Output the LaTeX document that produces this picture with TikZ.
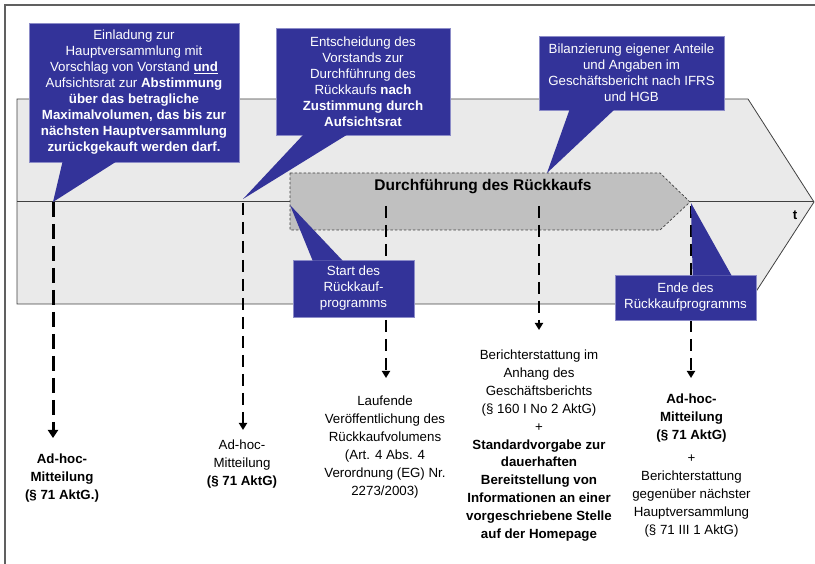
\documentclass[tikz,border=0pt]{standalone}
\usepackage{fontspec}
\setmainfont{Liberation Sans}
\usetikzlibrary{calc,arrows.meta}
\definecolor{callblue}{HTML}{333399}
\definecolor{callrim}{HTML}{8C8CC8}
\definecolor{biggray}{HTML}{EAEAEA}
\definecolor{innergray}{HTML}{C0C0C0}
\definecolor{framegray}{HTML}{606060}
\definecolor{linegray}{HTML}{404040}
\tikzset{
  callbox/.style={draw=callrim, line width=0.7pt, fill=callblue, text=white, align=center,
    inner sep=0pt, font={\fontsize{13.3}{16}\selectfont}},
  callptr/.style={fill=callblue},
  infotext/.style={align=center, inner sep=0pt, anchor=base, text=black,
    font={\fontsize{13.3}{17.9}\selectfont}},
  dasharrow/.style={line width=2pt, dash pattern=on 12pt off 7pt,
    -{Triangle[width=8pt,length=7pt]}},
  thickdasharrow/.style={line width=3pt, dash pattern=on 15pt off 7pt,
    -{Triangle[width=10pt,length=8pt]}},
}
\begin{document}
\begin{tikzpicture}[x=1pt,y=-1pt]
\useasboundingbox (0,0) rectangle (815,564);
% frame
\draw[framegray, line width=1.5pt] (5,564) -- (5,5) -- (815,5);
% big timeline arrow
\draw[linegray, line width=0.8pt, fill=biggray]
  (17,99) -- (748,99) -- (814,202) -- (748,304) -- (17,304) -- cycle;
\coordinate (tstart) at (17,202);
\coordinate (ttip) at (814,202);
\draw[linegray, line width=1pt] (tstart) -- (ttip);
\node[font={\bfseries\fontsize{13.3}{16}\selectfont}] (tlabel) at (795,215) {t};
% inner arrow
\draw[linegray, line width=0.7pt, dash pattern=on 2.5pt off 2pt, fill=innergray]
  (290,173) -- (660,173) -- (690,202) -- (660,230) -- (290,230) -- cycle;
\node[font={\bfseries\fontsize{15.5}{18}\selectfont}] (durch) at (483,187) {Durchführung des Rückkaufs};
% coordinates of events
\coordinate (s1) at (53,202);
\coordinate (s2) at (243,203);
\coordinate (s3) at (386,206);
\coordinate (s4) at (539,206);
\coordinate (s5) at (691,206);
\coordinate (e1) at (53,438);
\coordinate (e2) at (243,430);
\coordinate (e3) at (386,378);
\coordinate (e4) at (539,330);
\coordinate (e5) at (691,378);
% dashed arrows
\draw[thickdasharrow] (s1) -- (e1);
\draw[dasharrow] (s2) -- (e2);
\draw[dasharrow] (s3) -- (e3);
\draw[dasharrow] (s4) -- (e4);
\draw[dasharrow] (s5) -- (e5);
% callout boxes
\node[callbox, minimum width=210pt, minimum height=139pt] (b1) at (134,92.5)
  {Einladung zur\\Hauptversammlung mit\\Vorschlag von Vorstand \underline{\textbf{und}}\\
   Aufsichtsrat zur \textbf{Abstimmung}\\\textbf{über das betragliche}\\
   \textbf{Maximalvolumen, das bis zur}\\\textbf{nächsten Hauptversammlung}\\
   \textbf{zurückgekauft werden darf.}};
\fill[callptr] ($(b1.south west)+(34,-1)$) -- (s1) -- ($(b1.south west)+(88,-1)$) -- cycle;
\node[callbox, minimum width=174pt, minimum height=107pt] (b2) at (363,81.5)
  {Entscheidung des\\Vorstands zur\\Durchführung des\\Rückkaufs \textbf{nach}\\
   \textbf{Zustimmung durch}\\\textbf{Aufsichtsrat}};
\coordinate (p2) at (243,199);
\fill[callptr] ($(b2.south west)+(28,-1)$) -- (p2) -- ($(b2.south west)+(72,-1)$) -- cycle;
\node[callbox, minimum width=185pt, minimum height=74pt] (b3) at (631.5,73)
  {Bilanzierung eigener Anteile\\und Angaben im\\Geschäftsbericht nach IFRS\\und HGB};
\coordinate (p3) at (547,173);
\fill[callptr] ($(b3.south west)+(31,-1)$) -- (p3) -- ($(b3.south west)+(76,-1)$) -- cycle;
\node[callbox, minimum width=121pt, minimum height=57pt] (b4) at (353.5,288.5)
  {Start des\\Rückkauf-\\programms};
\coordinate (p4) at (290,205);
\fill[callptr] ($(b4.north west)+(20,1)$) -- (p4) -- ($(b4.north west)+(50,1)$) -- cycle;
\node[callbox, minimum width=141pt, minimum height=45pt] (b5) at (685.5,297.5)
  {Ende des\\Rückkaufprogramms};
\coordinate (p5) at (691,203);
\fill[callptr] ($(b5.north west)+(78,1)$) -- (p5) -- ($(b5.north west)+(117,1)$) -- cycle;
% bottom texts (anchor base = baseline of last line)
\node[infotext, font={\bfseries\fontsize{13.3}{17.9}\selectfont}] (t1) at (62,499)
  {Ad-hoc-\\Mitteilung\\(§ 71 AktG.)};
\node[infotext] (t2) at (242,485.5)
  {Ad-hoc-\\Mitteilung\\\textbf{(§ 71 AktG)}};
\node[infotext] (t3) at (385,495)
  {Laufende\\Veröffentlichung des\\Rückkaufvolumens\\(Art. 4 Abs. 4\\Verordnung (EG) Nr.\\2273/2003)};
\node[infotext] (t4) at (539,538.5)
  {Berichterstattung im\\Anhang des\\Geschäftsberichts\\(§ 160 I No 2 AktG)\\+\\
   \textbf{Standardvorgabe zur}\\\textbf{dauerhaften}\\\textbf{Bereitstellung von}\\
   \textbf{Informationen an einer}\\\textbf{vorgeschriebene Stelle}\\\textbf{auf der Homepage}};
\node[infotext] (t5) at (691.5,534.5)
  {\textbf{Ad-hoc-}\\\textbf{Mitteilung}\\\textbf{(§ 71 AktG)}\\[6pt]+\\Berichterstattung\\
   gegenüber nächster\\Hauptversammlung\\(§ 71 III 1 AktG)};
\end{tikzpicture}
\end{document}
